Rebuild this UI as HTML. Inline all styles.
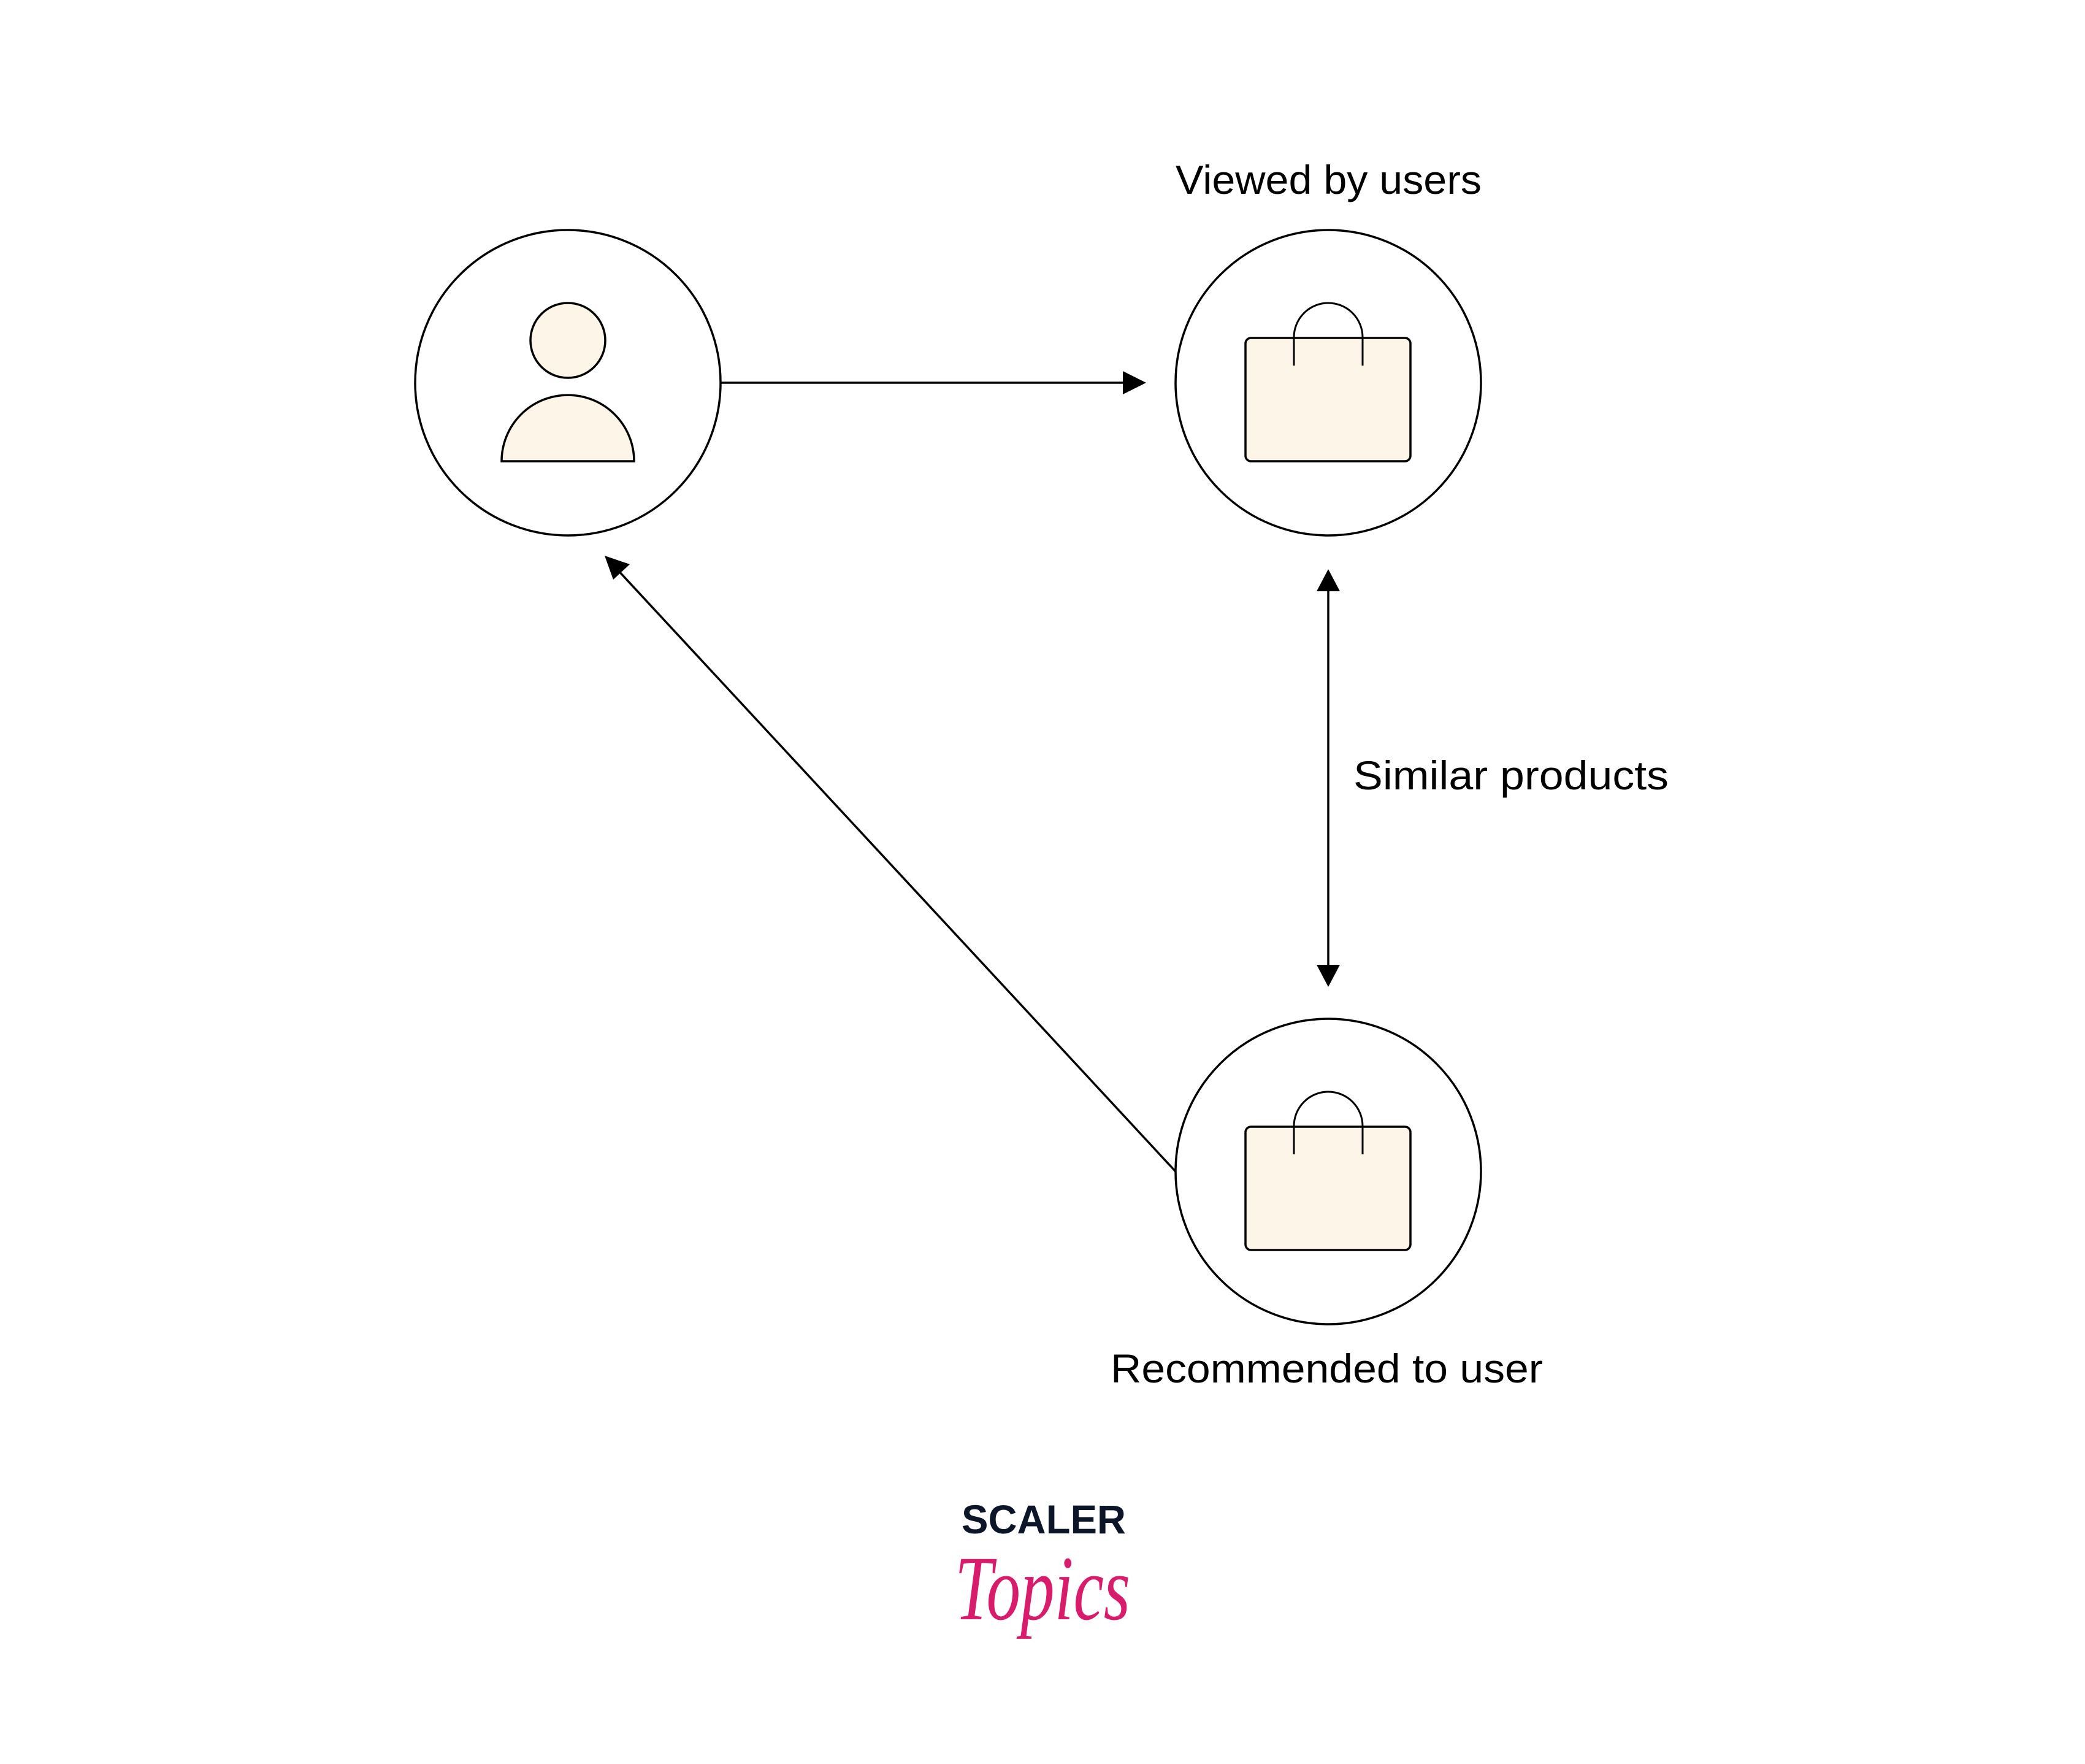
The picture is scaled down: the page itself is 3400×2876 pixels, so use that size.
<!DOCTYPE html>
<html><head><meta charset="utf-8"><style>
html,body{margin:0;padding:0;background:#fff;}
svg{display:block;}
</style></head><body>
<svg width="3400" height="2876" viewBox="0 0 3400 2876" xmlns="http://www.w3.org/2000/svg">
<rect width="3400" height="2876" fill="#fff"/>
<g fill="none" stroke="#000" stroke-width="3.5">
<circle cx="926" cy="624" r="249"/>
<circle cx="2166" cy="624" r="249"/>
<circle cx="2166" cy="1910" r="249"/>
</g>
<circle cx="926" cy="555" r="61" fill="#fdf5e7" stroke="#000" stroke-width="3.5"/>
<path d="M818 752 A108 108 0 0 1 1034 752 Z" fill="#fdf5e7" stroke="#000" stroke-width="3.5"/>
<g fill="#fdf5e7" stroke="#000" stroke-width="3.5">
<rect x="2031" y="551" width="269" height="201" rx="9"/>
<rect x="2031" y="1837" width="269" height="201" rx="9"/>
</g>
<g fill="none" stroke="#000" stroke-width="3">
<path d="M2110 596 V550 A56 56 0 0 1 2222 550 V596"/>
<path d="M2110 1882 V1836 A56 56 0 0 1 2222 1836 V1882"/>
</g>
<g stroke="#000" stroke-width="3.5" fill="none">
<line x1="1175" y1="624" x2="1835" y2="624"/>
<line x1="2166" y1="962" x2="2166" y2="1575"/>
<line x1="1917" y1="1910" x2="1008" y2="930"/>
</g>
<g fill="#000">
<polygon points="1869,624 1831,605 1831,643"/>
<polygon points="2166,928 2147,964 2185,964"/>
<polygon points="2166,1609 2147,1573 2185,1573"/>
<polygon points="986,906 1000,945 1027,920"/>
</g>
<g font-family="'Liberation Sans', sans-serif" font-size="66" fill="#000">
<text x="1917" y="316" textLength="499" lengthAdjust="spacingAndGlyphs">Viewed by users</text>
<text x="2207" y="1287" textLength="514" lengthAdjust="spacingAndGlyphs">Similar products</text>
<text x="1811" y="2254" textLength="705" lengthAdjust="spacingAndGlyphs">Recommended to user</text>
</g>
<text x="1568" y="2500" font-family="'Liberation Sans', sans-serif" font-weight="bold" font-size="66" textLength="268" lengthAdjust="spacingAndGlyphs" fill="#0d1628">SCALER</text>
<text x="1557" y="2640" font-family="'Liberation Serif', serif" font-style="italic" font-size="150" textLength="286" lengthAdjust="spacingAndGlyphs" fill="#d81b6a">Topics</text>
</svg>
</body></html>
